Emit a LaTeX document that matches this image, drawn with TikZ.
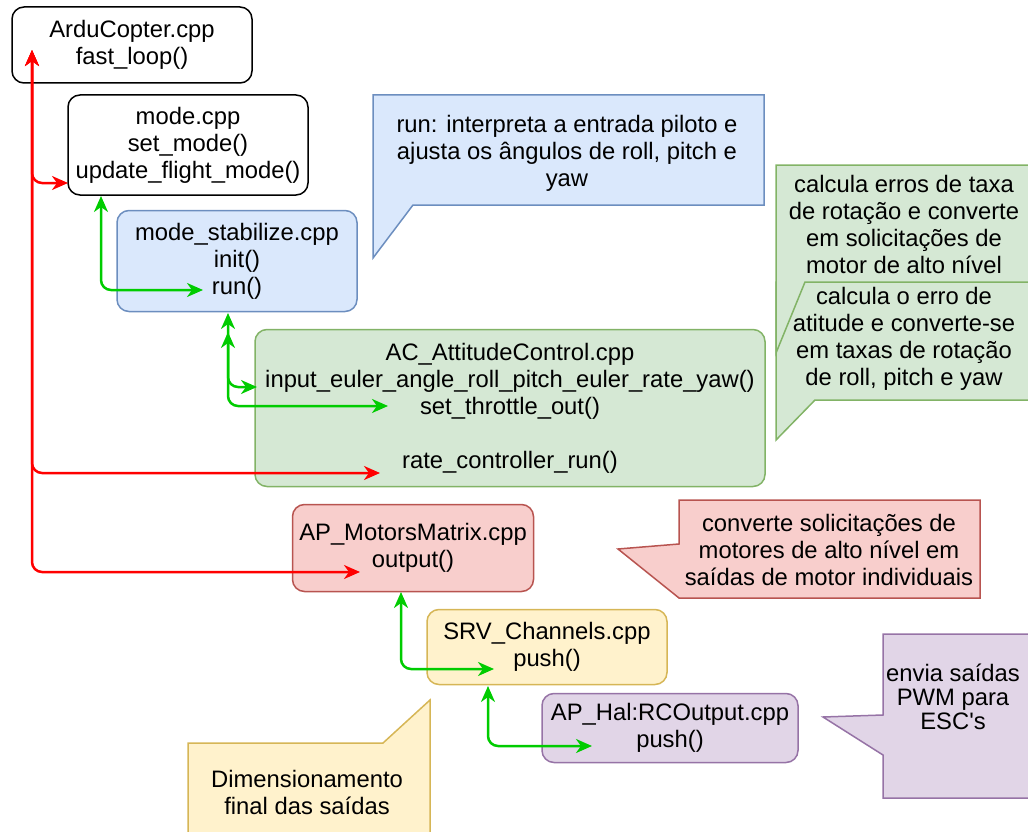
\documentclass[tikz,border=0pt]{standalone}
\usepackage{fontspec}
\setmainfont{Liberation Sans}
\usetikzlibrary{arrows.meta}

\definecolor{blueFill}{HTML}{DAE8FC}
\definecolor{blueLine}{HTML}{6C8EBF}
\definecolor{greenFill}{HTML}{D5E8D4}
\definecolor{greenLine}{HTML}{82B366}
\definecolor{redFill}{HTML}{F8CECC}
\definecolor{redLine}{HTML}{B85450}
\definecolor{yellowFill}{HTML}{FFF2CC}
\definecolor{yellowLine}{HTML}{D6B656}
\definecolor{purpleFill}{HTML}{E1D5E7}
\definecolor{purpleLine}{HTML}{9673A6}
\definecolor{callRed}{HTML}{FF0000}
\definecolor{callGreen}{HTML}{00CC00}

\begin{document}
\begin{tikzpicture}[
    x=1pt, y=-1pt,
    every node/.style={font=\fontsize{23.8}{27}\selectfont, align=center, inner sep=0pt},
    module/.style={draw, rounded corners=12pt, line width=1.5pt},
    note/.style={line width=1.5pt},
    callflow/.style={{Stealth[length=16pt, width=14pt, inset=5pt]}-{Stealth[length=16pt, width=14pt, inset=5pt]},
        line width=2.5pt, rounded corners=10pt},
    redflow/.style={callflow, draw=callRed, fill=none},
    greenflow/.style={callflow, draw=callGreen, fill=none}
]
\useasboundingbox (0,0) rectangle (1028,832);

% call notes
\draw[note, draw=blueLine, fill=blueFill] (373,95) -- (764,95) -- (764,205) -- (413,205) -- (373,258) -- cycle;
\node (runnote) at (567,153) {run: interpreta a entrada piloto e\\ajusta os ângulos de roll, pitch e\\yaw};

\draw[note, draw=greenLine, fill=greenFill] (776,282) -- (1040,282) -- (1040,400) -- (815,400) -- (776,440) -- cycle;
\node (attnote) at (904,339) {calcula o erro de\\atitude e converte-se\\em taxas de rotação\\de roll, pitch e yaw};
\draw[note, draw=greenLine, fill=greenFill] (776,165) -- (1040,165) -- (1040,282) -- (805,282) -- (776,353) -- cycle;
\node (ratenote) at (904,224) {calcula erros de taxa\\de rotação e converte\\em solicitações de\\motor de alto nível};

\draw[note, draw=redLine, fill=redFill] (679,500) -- (980,500) -- (980,598) -- (679,598) -- (618,549) -- (679,544) -- cycle;
\node (motornote) at (829,550) {converte solicitações de\\motores de alto nível em\\saídas de motor individuais};

\draw[note, draw=yellowLine, fill=yellowFill] (188,743) -- (383,743) -- (430,700) -- (430,840) -- (188,840) -- cycle;
\node (scalenote) at (307,792) {Dimensionamento\\final das saídas};

\draw[note, draw=purpleLine, fill=purpleFill] (883,634) -- (1040,634) -- (1040,798) -- (883,798) -- (883,755) -- (823,717) -- (883,715) -- cycle;
\node[font=\fontsize{23.8}{24}\selectfont] (pwmnote) at (953,697) {envia saídas\\PWM para\\ESC\textquotesingle s};

% modules
\node[module, fill=white, minimum width=240pt, minimum height=76pt] (ardu) at (132,45) {ArduCopter.cpp\\fast\_loop()};
\node[module, fill=white, minimum width=240pt, minimum height=100pt] (mode) at (188,145) {mode.cpp\\set\_mode()\\update\_flight\_mode()};
\node[module, draw=blueLine, fill=blueFill, minimum width=240pt, minimum height=101pt] (stab) at (237,261) {mode\_stabilize.cpp\\init()\\run()};
\node[module, draw=greenLine, fill=greenFill, minimum width=510pt, minimum height=157pt] (attctl) at (510,408) {AC\_AttitudeControl.cpp\\input\_euler\_angle\_roll\_pitch\_euler\_rate\_yaw()\\set\_throttle\_out()\\[27pt]rate\_controller\_run()};
\node[module, draw=redLine, fill=redFill, minimum width=241pt, minimum height=87pt] (motors) at (413,548) {AP\_MotorsMatrix.cpp\\output()};
\node[module, draw=yellowLine, fill=yellowFill, minimum width=240pt, minimum height=75pt] (srv) at (547,647) {SRV\_Channels.cpp\\push()};
\node[module, draw=purpleLine, fill=purpleFill, minimum width=256pt, minimum height=69pt] (rcout) at (670,728) {AP\_Hal:RCOutput.cpp\\push()};

% call ends
\coordinate (arduIn) at (32,50);
\coordinate (modeIn) at (68,183);
\coordinate (rateIn) at (380,473);
\coordinate (outIn) at (360,572);
\coordinate (modeUp) at (101,196);
\coordinate (runIn) at (203,290);
\coordinate (stabUp) at (228,313);
\coordinate (stabUpB) at (228,332);
\coordinate (eulerIn) at (257,387);
\coordinate (throttleIn) at (388,406);
\coordinate (motorsUp) at (401,592);
\coordinate (srvIn) at (494,669);
\coordinate (srvUp) at (488,686);
\coordinate (rcIn) at (592,746);

\draw[redflow] (arduIn) |- (modeIn);
\draw[redflow] (arduIn) |- (rateIn);
\draw[redflow] (arduIn) |- (outIn);
\draw[greenflow] (modeUp) |- (runIn);
\draw[greenflow] (stabUp) |- (eulerIn);
\draw[greenflow] (stabUpB) |- (throttleIn);
\draw[greenflow] (motorsUp) |- (srvIn);
\draw[greenflow] (srvUp) |- (rcIn);
\end{tikzpicture}
\end{document}
